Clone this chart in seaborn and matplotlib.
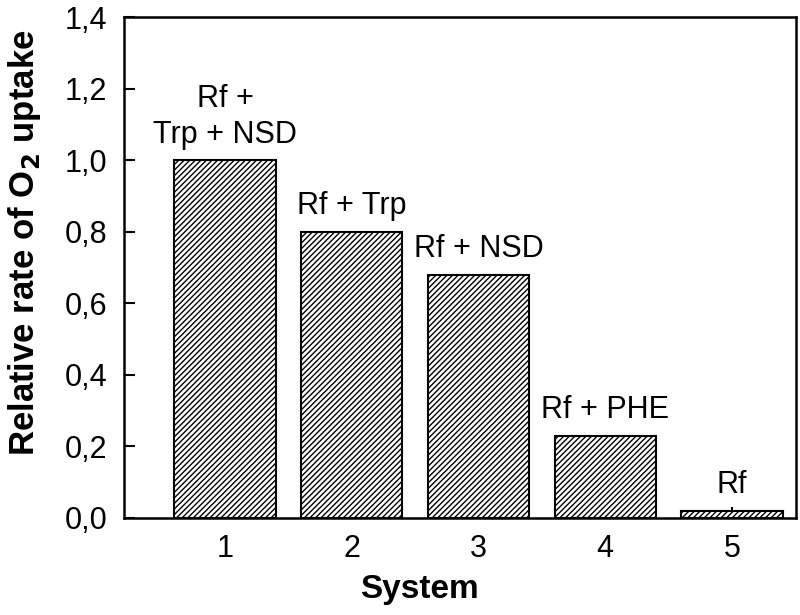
import matplotlib
matplotlib.use("Agg")
import matplotlib.pyplot as plt
import seaborn as sns
import pandas as pd
from matplotlib.ticker import FuncFormatter

systems = ["1", "2", "3", "4", "5"]
rates = [1.0, 0.80, 0.68, 0.23, 0.02]
labels = ["Rf +\nTrp + NSD", "Rf + Trp", "Rf + NSD", "Rf + PHE", "Rf"]

sns.set_style("ticks")
plt.rcParams['font.family'] = ['Liberation Sans', 'DejaVu Sans']
plt.rcParams['hatch.linewidth'] = 1.0
plt.rcParams['text.color'] = 'black'

df = pd.DataFrame({"System": systems, "Rate": rates})

fig = plt.figure(figsize=(8, 6.15), dpi=100)
ax = fig.add_axes([0.155, 0.158, 0.84, 0.814])
sns.barplot(data=df, x="System", y="Rate", color="white", edgecolor="black",
            linewidth=1.5, width=0.8, ax=ax)
for p in ax.patches:
    p.set_hatch("//////")

for i, (v, t) in enumerate(zip(rates, labels)):
    ax.text(i, v + 0.03, t, ha="center", va="bottom", fontsize=22,
            linespacing=1.25, color="black")

ax.set_xlim(-0.797, 4.505)
ax.set_ylim(0, 1.4)
ax.set_yticks([0, 0.2, 0.4, 0.6, 0.8, 1.0, 1.2, 1.4])
ax.yaxis.set_major_formatter(FuncFormatter(lambda v, _: f"{v:.1f}".replace(".", ",")))
ax.tick_params(direction="in", length=8, width=1.5, labelsize=22, pad=12,
               color="black", labelcolor="black", left=True, bottom=True)
for s in ax.spines.values():
    s.set_visible(True)
    s.set_linewidth(1.8)
    s.set_color("black")
ax.set_xlabel("System", fontsize=24, fontweight="bold", color="black")
ax.set_ylabel("Relative rate of O$_\\mathbf{2}$ uptake", fontsize=25,
              fontweight="bold", color="black")
ax.xaxis.set_label_coords(0.439, -0.112)
ax.yaxis.set_label_coords(-0.12, 0.55)

fig.savefig("out.png", dpi=100)
